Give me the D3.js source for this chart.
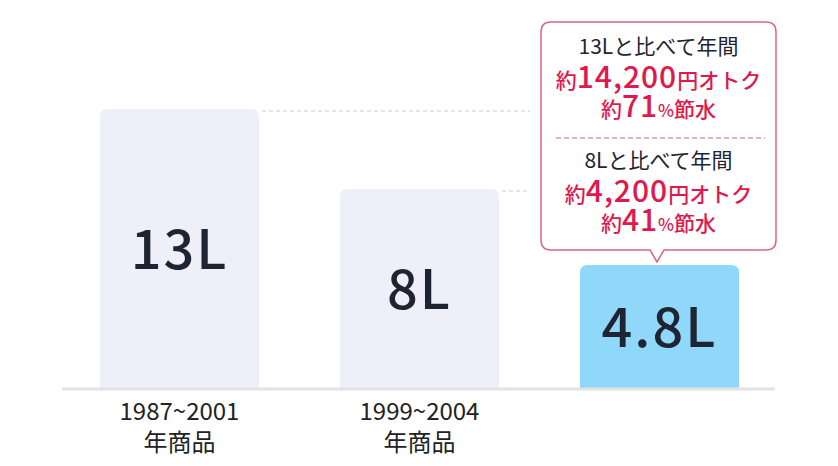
<!DOCTYPE html><html><head><meta charset="utf-8"><script src="https://cdn.jsdelivr.net/npm/d3@7"></script>
<style>body{margin:0;background:#fff}text{font-family:"Noto Sans CJK JP","Noto Sans",sans-serif}</style></head><body><svg id="c" width="838" height="466"></svg><script>
const categories=["1987~2001\n年商品","1999~2004\n年商品",""];
const values=[13,8,4.8];
const valueLabels=["13L","8L","4.8L"];
const colors=["#efeff9","#efeff9","#8fd8fa"];
const svg=d3.select("#c");
const base=388;
const x=d3.scaleBand().domain(d3.range(3)).range([59.5,779.5]).paddingInner(0.3375).paddingOuter(0.16875);
const y=d3.scaleLinear().domain([0,4.8,8,13]).range([base,base-123,base-199,base-279]);
const dark="#1f2433",red="#e0184d",pink="#d9677f";
[0,1].forEach(i=>svg.append("line").attr("x1",x(i)+x.bandwidth()+3).attr("x2",530).attr("y1",y(values[i])+2).attr("y2",y(values[i])+2).attr("stroke","#ccc").attr("stroke-dasharray","4,3"));
svg.selectAll("path.b").data(values).join("path").attr("fill",(d,i)=>colors[i]).attr("d",(d,i)=>{const x0=x(i),w=x.bandwidth(),t=y(d),r=8;return `M${x0},${base}V${t+r}Q${x0},${t} ${x0+r},${t}H${x0+w-r}Q${x0+w},${t} ${x0+w},${t+r}V${base}Z`;});
svg.append("line").attr("x1",62).attr("x2",775).attr("y1",base+1).attr("y2",base+1).attr("stroke","#e3e3e3").attr("stroke-width",3);
svg.selectAll("text.v").data(values).join("text").attr("x",(d,i)=>x(i)+x.bandwidth()/2).attr("y",d=>(y(d)+base)/2+20).attr("text-anchor","middle").attr("font-size",54).attr("font-weight",500).attr("fill",dark).attr("letter-spacing",2).text((d,i)=>valueLabels[i]);
categories.forEach((c,i)=>c.split("\n").forEach((l,j)=>svg.append("text").attr("x",x(i)+x.bandwidth()/2).attr("y",420+j*31).attr("text-anchor","middle").attr("font-size",24).attr("fill","#222").text(l)));
const bx=541,by=22,bw=235,bh=228,px=657;
svg.append("path").attr("fill","#fff").attr("stroke",pink).attr("stroke-width",1.5).attr("d",`M${bx+10},${by}H${bx+bw-10}Q${bx+bw},${by} ${bx+bw},${by+10}V${by+bh-10}Q${bx+bw},${by+bh} ${bx+bw-10},${by+bh}H${px+7}L${px},${by+bh+12}L${px-7},${by+bh}H${bx+10}Q${bx},${by+bh} ${bx},${by+bh-10}V${by+10}Q${bx},${by} ${bx+10},${by}Z`);
svg.append("line").attr("x1",556).attr("x2",765).attr("y1",138).attr("y2",138).attr("stroke",pink).attr("stroke-dasharray","5,3");
const cx=658.5;
function block(y0,ref,yen,pct){
 svg.append("text").attr("x",cx).attr("y",y0).attr("text-anchor","middle").attr("font-size",21).attr("fill",dark).text(ref+"と比べて年間");
 let t=svg.append("text").attr("x",cx).attr("y",y0+34).attr("text-anchor","middle").attr("fill",red).attr("font-weight",500);
 t.append("tspan").attr("font-size",21).text("約");t.append("tspan").attr("font-size",30).attr("letter-spacing",1).text(yen);t.append("tspan").attr("font-size",21).text("円オトク");
 t=svg.append("text").attr("x",cx).attr("y",y0+63).attr("text-anchor","middle").attr("fill",red).attr("font-weight",500);
 t.append("tspan").attr("font-size",21).text("約");t.append("tspan").attr("font-size",30).attr("letter-spacing",1).text(pct);t.append("tspan").attr("font-size",17).text("%");t.append("tspan").attr("font-size",21).text("節水");
}
block(54,"13L","14,200","71");
block(168,"8L","4,200","41");
</script></body></html>
